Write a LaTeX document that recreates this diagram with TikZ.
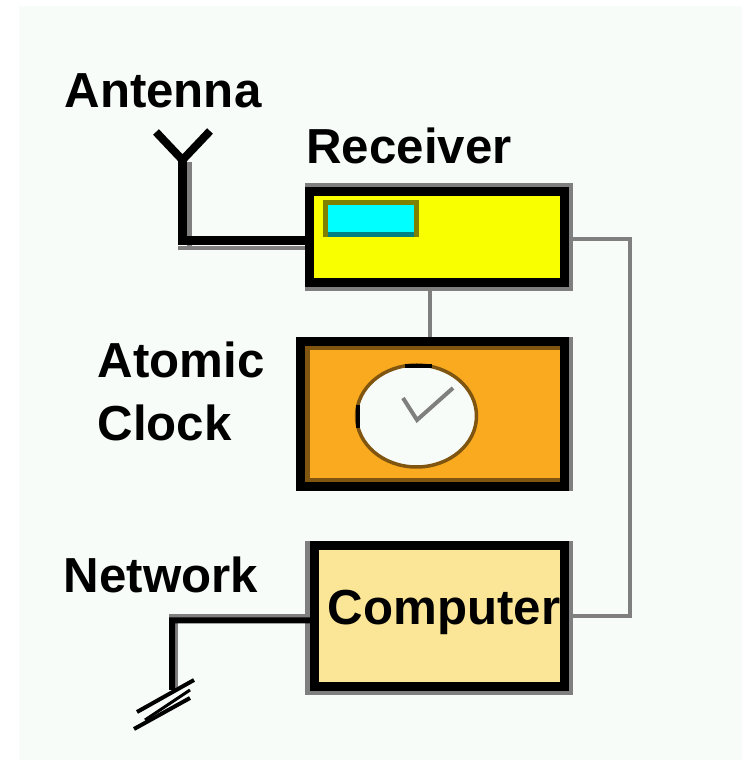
\documentclass[tikz,border=0pt]{standalone}
\usepackage{fontspec}
\setmainfont{Liberation Sans}
\definecolor{paper}{HTML}{F7FCF9}
\definecolor{shadowgray}{HTML}{7F7F7F}
\definecolor{rxyellow}{HTML}{FAFF00}
\definecolor{clockorange}{HTML}{FAAA1E}
\definecolor{clockedge}{HTML}{7F5510}
\definecolor{pcyellow}{HTML}{FAE696}
\definecolor{dispcyan}{HTML}{00FFFF}
\definecolor{dispedge}{HTML}{808000}
\definecolor{dispteal}{HTML}{008080}
\tikzset{
	box/.style={draw=black, line width=0.09cm, rectangle, inner sep=0pt},
	label/.style={font=\bfseries\fontsize{14}{16}\selectfont, inner sep=0pt},
	wire/.style={draw=shadowgray, line width=0.045cm},
	cable/.style={draw=black, line width=0.06cm},
}
\begin{document}
\begin{tikzpicture}
	\useasboundingbox (0,0) rectangle (7.42,7.62);
	\fill[white] (0,0) rectangle (7.42,7.62);
	\fill[paper] (0.19,0.02) rectangle (7.42,7.56);
	
	% shadows under the boxes
	\fill[shadowgray] (3.05,4.71) rectangle (5.73,5.79);
	\fill[shadowgray] (5.60,2.71) rectangle (5.73,4.25);
	\fill[shadowgray] (3.05,0.67) rectangle (5.73,2.21);
	
	\node[box, fill=rxyellow, minimum width=2.55cm, minimum height=0.91cm] (receiver) at (4.37,5.25) {};
	\node[box, fill=clockorange, minimum width=2.64cm, minimum height=1.45cm] (clock) at (4.325,3.48) {};
	\node[box, fill=pcyellow, minimum width=2.50cm, minimum height=1.41cm] (computer) at (4.395,1.46) {};
	
	% dark edge inside the clock box
	\draw[clockedge, line width=0.045cm] (5.60,4.14) -- (3.075,4.14) -- (3.075,2.82) -- (5.60,2.82);
	
	% display
	\draw[draw=dispedge, fill=dispcyan, line width=0.05cm] (3.255,5.275) rectangle (4.165,5.59);
	\draw[dispteal, line width=0.05cm] (3.28,5.275) -- (4.14,5.275);
	
	% clock face
	\draw[fill=paper, draw=clockedge, line width=0.035cm] (4.165,3.46) ellipse (0.60 and 0.51);
	\draw[black, line width=0.045cm] (3.58,3.57) -- (3.58,3.34);
	\draw[black, line width=0.045cm] (4.05,3.96) -- (4.32,3.96);
	\draw[shadowgray, line width=0.04cm] (4.03,3.64) -- (4.17,3.42) -- (4.53,3.74);
	
	% connectors
	\coordinate (bend) at (6.30,5.23);
	\coordinate (antennabase) at (1.825,5.21);
	\coordinate (antennafork) at (1.825,6.02);
	\coordinate (antennaleft) at (1.56,6.30);
	\coordinate (antennaright) at (2.10,6.31);
	\coordinate (netbend) at (1.72,1.415);
	\coordinate (netend) at (1.72,0.72);
	
	\draw[wire] (4.30,4.71) -- (4.30,4.25);
	\draw[wire] ([yshift=-0.02cm]receiver.east) -| (bend) |- (computer.east);
	
	\draw[shadowgray, line width=0.045cm] (1.895,6.0) -- (1.895,5.12);
	\draw[shadowgray, line width=0.04cm] (1.78,5.14) -- (3.05,5.14);
	\draw[black, line width=0.08cm] (antennaleft) -- (antennafork) -- (antennaright);
	\draw[black, line width=0.09cm] (antennafork) -- (antennabase) -- ([yshift=-0.04cm]receiver.west);
	
	\draw[shadowgray, line width=0.045cm] (1.69,1.46) -- (3.05,1.46);
	\draw[shadowgray, line width=0.035cm] (1.765,1.40) -- (1.765,0.72);
	\draw[cable] ([yshift=-0.045cm]computer.west) -- (netbend) -- (netend);
	
	% network hatching
	\draw[black, line width=0.04cm] (1.37,0.50) -- (1.94,0.82);
	\draw[black, line width=0.04cm] (1.34,0.33) -- (1.90,0.64);
	\draw[black, line width=0.03cm] (1.45,0.42) -- (1.90,0.72);
	
	\node[label] (antennalabel) at (1.63,6.71) {Antenna};
	\node[label] (receiverlabel) at (4.09,6.16) {Receiver};
	\node[label, align=left, anchor=west] (clocklabel) at (0.97,3.71) {Atomic\\[0.067cm]Clock};
	\node[label] (networklabel) at (1.61,1.87) {Network};
	\node[label] (computerlabel) at (4.44,1.50) {Computer};
\end{tikzpicture}
\end{document}
